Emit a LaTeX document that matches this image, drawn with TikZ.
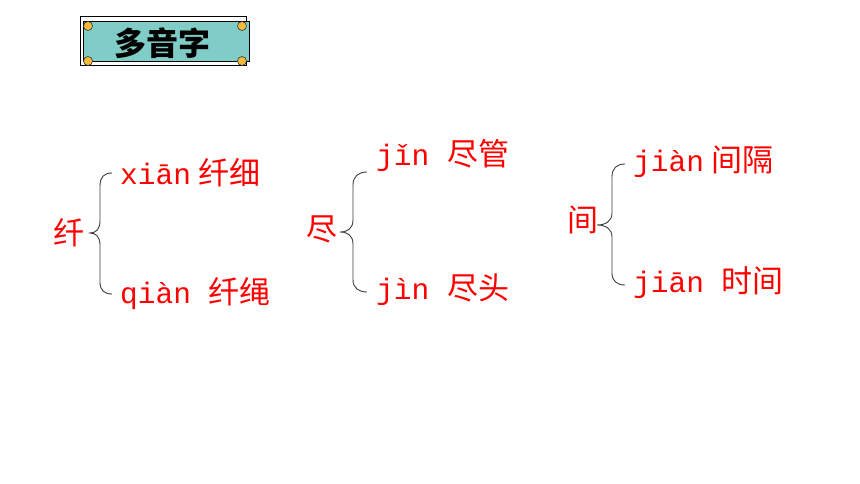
\documentclass[tikz,border=0pt]{standalone}
\usepackage{fontspec}
\newfontfamily\cjk{Noto Sans CJK SC}
\newfontfamily\py{Liberation Mono}
\definecolor{teal1}{RGB}{128,204,198}
\definecolor{dot}{RGB}{245,185,60}
\definecolor{brc}{RGB}{60,60,60}
\tikzset{
  pytext/.style={anchor=west,inner sep=0pt,text=red,font=\fontsize{29.5}{30}\selectfont},
  headch/.style={inner sep=0pt,text=red,font=\cjk\fontsize{31}{32}\selectfont},
  bracel/.style={draw=brc,line width=0.9pt},
  corner/.style={circle,draw=black!80,fill=dot,line width=0.6pt,minimum size=9pt,inner sep=0pt}
}
\newcommand{\cj}{\cjk\fontsize{31}{32}\selectfont}
\begin{document}
\begin{tikzpicture}[x=1pt,y=-1pt]
\useasboundingbox (0,0) rectangle (860,484);
% title
\draw[black,line width=1pt,fill=white] (80,17) rectangle (246,66);
\draw[black,line width=1pt,fill=teal1] (83,22) rectangle (249,62);
\foreach \p [count=\i] in {(88,26),(242,26),(88,61),(242,61)} \node[corner] (c\i) at \p {};
\node[inner sep=0pt,font=\cjk\bfseries\fontsize{32}{34}\selectfont] (title) at (162,43) {多音字};
% group 1
\node[headch] (h1) at (69,233) {纤};
\node[pytext] (a1) at (120,173) {\py xiān\hspace{7pt}\cj 纤细};
\node[pytext] (b1) at (120,294) {\py qiàn \cj 纤绳};
\coordinate (t1) at (90,233);
\draw[bracel] (112,173) .. controls (104,173) and (100,177) .. (100,186) -- (100,221) .. controls (100,229) and (96,233) .. (t1) .. controls (96,233) and (100,237) .. (100,245) -- (100,282) .. controls (100,290) and (104,294) .. (112,294);
% group 2
\node[headch] (h2) at (322,229) {尽};
\node[pytext] (a2) at (376,155) {\py jǐn \cj 尽管};
\node[pytext] (b2) at (376,290) {\py jìn \cj 尽头};
\coordinate (t2) at (340,232);
\draw[bracel] (367,172) .. controls (359,172) and (353,176) .. (353,185) -- (353,220) .. controls (353,228) and (348,232) .. (t2) .. controls (348,232) and (353,236) .. (353,244) -- (353,280) .. controls (353,288) and (359,292) .. (367,292);
% group 3
\node[headch] (h3) at (583,220) {间};
\node[pytext] (a3) at (633,162) {\py jiàn\hspace{7pt}\cj 间隔};
\node[pytext] (b3) at (633,283) {\py jiān \cj 时间};
\coordinate (t3) at (597,225);
\draw[bracel] (625,164) .. controls (617,164) and (612,168) .. (612,177) -- (612,213) .. controls (612,221) and (606,225) .. (t3) .. controls (606,225) and (612,229) .. (612,237) -- (612,273) .. controls (612,281) and (617,285) .. (625,285);
\end{tikzpicture}
\end{document}
